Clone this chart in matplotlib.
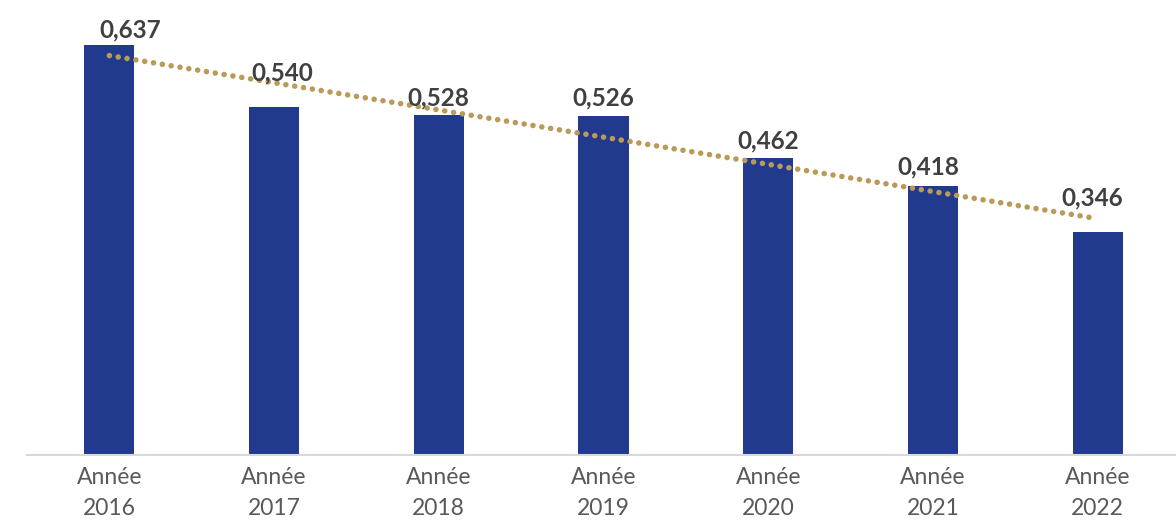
import numpy as np
import matplotlib.pyplot as plt

# données
annees = ['2016', '2017', '2018', '2019', '2020', '2021', '2022']
valeurs = [0.637, 0.540, 0.528, 0.526, 0.462, 0.418, 0.346]
# petits décalages des étiquettes (pixels) pour éviter la courbe de tendance
decal_x = [21, 8, 0, 0, 0, -5, -5]
decal_y = [4, 23, 6, 7, 5, 8, 23]

plt.rcParams['font.family'] = ['Lato', 'DejaVu Sans']

fig = plt.figure(figsize=(11.76, 5.21), dpi=100)
ax = fig.add_axes([27 / 1176, (521 - 455) / 521, (1180 - 27) / 1176, 455 / 521])

x = np.arange(len(annees))
ax.bar(x, valeurs, width=0.305, color='#213A8D', zorder=2)

# courbe de tendance linéaire
a, b = np.polyfit(x, valeurs, 1)
xt = np.array([0, len(annees) - 1.03])
ax.plot(xt, a * xt + b, color='#B99A57', linewidth=4,
        linestyle=(0, (0.01, 1.6)), dash_capstyle='round', zorder=3)

for i, v in enumerate(valeurs):
    lab = ('%.3f' % v).replace('.', ',')
    ax.annotate(lab, (x[i], v), xytext=(decal_x[i] * 0.72, decal_y[i] * 0.72),
                textcoords='offset points', ha='center', va='bottom',
                fontsize=17.5, fontweight='bold', color='#404040', zorder=4)

ax.set_xlim(-0.5, len(annees) - 0.5)
ax.set_ylim(0, 0.637 * 455 / 410)
ax.set_xticks(x)
ax.set_xticklabels(['Année\n' + a_ for a_ in annees], fontsize=16.5,
                   color='#595959', linespacing=1.55)
ax.tick_params(axis='x', length=0, pad=9)
ax.set_yticks([])
for s in ['top', 'right', 'left']:
    ax.spines[s].set_visible(False)
ax.spines['bottom'].set_color('#D9D9D9')
ax.spines['bottom'].set_linewidth(1.5)

fig.savefig('out.png', dpi=100)
